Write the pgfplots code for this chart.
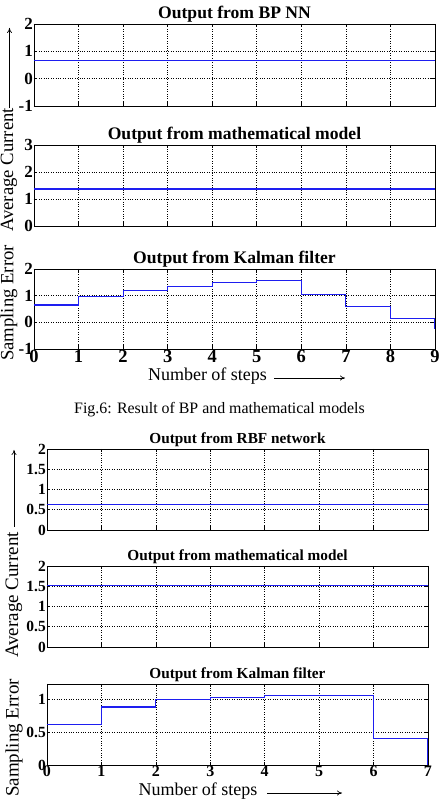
\documentclass[border=0pt]{standalone}
\usepackage{fontspec}
\setmainfont{Liberation Serif}
\usepackage{pgfplots}
\pgfplotsset{compat=1.18}
\usetikzlibrary{arrows.meta}
\definecolor{lineblue}{RGB}{30,30,240}
\pgfplotsset{
  mat/.style={scale only axis, axis line style={line width=0.9pt},
    grid=major, grid style={dotted,line width=0.6pt,black},
    tick align=inside, major tick length=3.5pt, tick style={black,line width=0.6pt},
    /pgf/number format/assume math mode=true, xmin=0,
    every axis title shift=0pt,
    title style={at={(0.5,1)},anchor=base,yshift=5pt}},
  figA/.style={mat, width=401pt, xmax=9, xtick={0,...,9},
    title style={font=\fontsize{17.6}{17.6}\selectfont\bfseries},
    yticklabel style={font=\fontsize{17}{17}\selectfont\bfseries, inner sep=1pt},
    xticklabel style={font=\fontsize{18.5}{18.5}\selectfont\bfseries, inner sep=1pt}},
  figB/.style={mat, width=381pt, xmax=7, xtick={0,...,7},
    title style={font=\fontsize{15.3}{15.3}\selectfont\bfseries},
    yticklabel style={font=\fontsize{15.5}{15.5}\selectfont\bfseries, inner sep=1pt},
    xticklabel style={font=\fontsize{16}{16}\selectfont\bfseries, inner sep=1pt}},
  ln/.style={lineblue, line width=1.1pt, const plot, mark=none}
}
\begin{document}
\begin{tikzpicture}[x=1pt,y=1pt]
\path[use as bounding box] (0,0) rectangle (442,804);
% ---------- Figure 6 ----------
\begin{axis}[figA, at={(34pt,698pt)}, anchor=south west, height=82pt,
  ymin=-1, ymax=2, ytick={-1,0,1,2}, xticklabels={}, title={Output from BP NN}]
\addplot[ln] coordinates {(0,0.65) (9,0.65)};
\end{axis}
\begin{axis}[figA, at={(34pt,578pt)}, anchor=south west, height=81pt,
  ymin=0, ymax=3, ytick={0,1,2,3}, xticklabels={}, title={Output from mathematical model}]
\addplot[ln] coordinates {(0,1.37) (9,1.37)};
\end{axis}
\begin{axis}[figA, at={(34pt,455pt)}, anchor=south west, height=80pt,
  ymin=-1, ymax=2, ytick={-1,0,1,2}, title={Output from Kalman filter}]
\addplot[ln] coordinates {(0,0.65) (1,0.97) (2,1.2) (3,1.35) (4,1.5) (5,1.58) (6,1.03) (7,0.58) (8,0.14) (9,-0.25)};
\end{axis}
\node[rotate=90, font=\fontsize{18.7}{18.7}\selectfont] at (9,634) {Average Current};
\node[rotate=90, font=\fontsize{18.7}{18.7}\selectfont] at (9,501) {Sampling Error};
\draw[line width=0.7pt, -{To[length=5pt,width=5pt]}] (9.5,696) -- (9.5,776);
\node[font=\fontsize{18}{18}\selectfont] at (207.5,428) {Number of steps};
\draw[line width=0.7pt, -{To[length=5pt,width=5pt]}] (274,426) -- (345,426);
\node[font=\fontsize{15.9}{15.9}\selectfont] at (219.5,394) {Fig.6: Result of BP and mathematical models};
% ---------- Figure 7 ----------
\begin{axis}[figB, at={(47pt,274pt)}, anchor=south west, height=81pt,
  ymin=0, ymax=2, ytick={0,0.5,1,1.5,2}, xticklabels={}, title={Output from RBF network}]
\addplot[ln] coordinates {(0,0.62) (7,0.62)};
\end{axis}
\begin{axis}[figB, at={(47pt,157pt)}, anchor=south west, height=81pt,
  ymin=0, ymax=2, ytick={0,0.5,1,1.5,2}, xticklabels={}, title={Output from mathematical model}]
\addplot[ln] coordinates {(0,1.52) (7,1.52)};
\end{axis}
\begin{axis}[figB, at={(47pt,39pt)}, anchor=south west, height=81pt,
  ymin=0, ymax=1.23, ytick={0,0.5,1}, title={Output from Kalman filter}]
\addplot[ln] coordinates {(0,0.62) (1,0.88) (2,0.99) (3,1.03) (4,1.06) (5,1.05) (6,0.4) (7,0)};
\end{axis}
\node[rotate=90, font=\fontsize{19}{19}\selectfont] at (14,209) {Average Current};
\node[rotate=90, font=\fontsize{19}{19}\selectfont] at (14,66) {Sampling Error};
\draw[line width=0.7pt, -{To[length=5pt,width=5pt]}] (14,277) -- (14,354);
\node[font=\fontsize{18}{18}\selectfont] at (198,13) {Number of steps};
\draw[line width=0.7pt, -{To[length=5pt,width=5pt]}] (267,11) -- (342,11);
\end{tikzpicture}
\end{document}
